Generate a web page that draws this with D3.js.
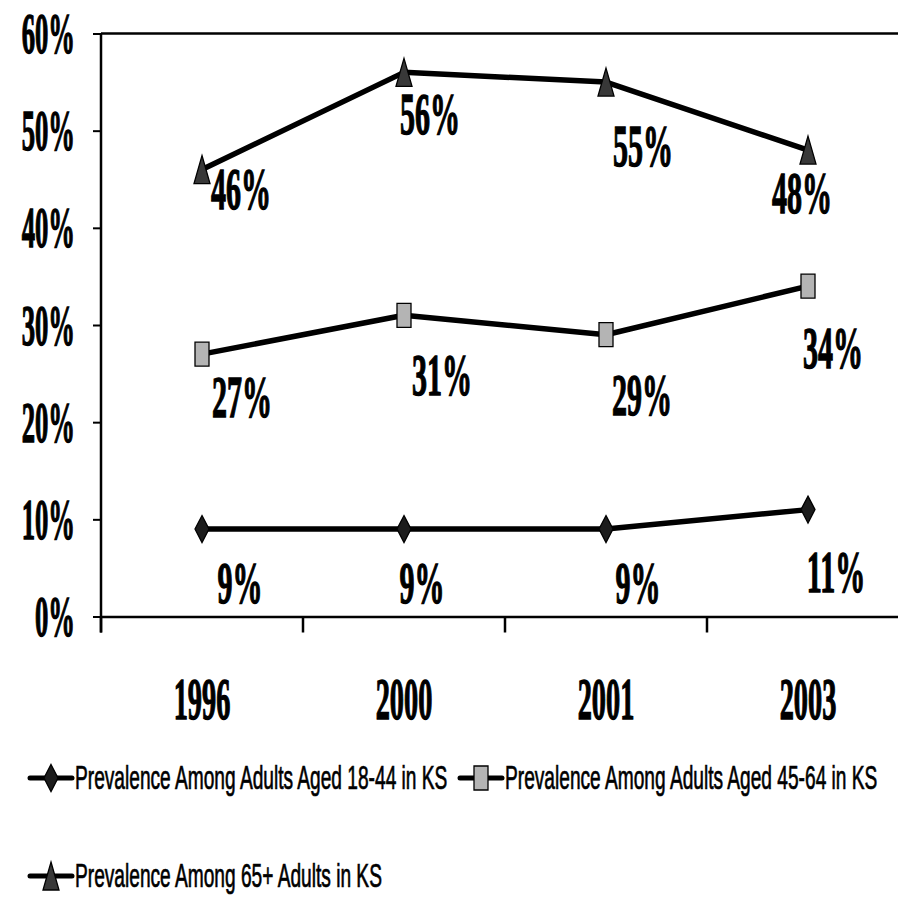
<!DOCTYPE html>
<html>
<head>
<meta charset="utf-8">
<script src="https://cdn.jsdelivr.net/npm/d3@7"></script>
<style>
  body { margin: 0; background: #fff; }
  svg { display: block; }
</style>
</head>
<body>
<script>
// data
var years = ["1996", "2000", "2001", "2003"];
var yTicks = [0, 0.1, 0.2, 0.3, 0.4, 0.5, 0.6];
var seriesNames = [
  "Prevalence Among Adults Aged 18-44 in KS",
  "Prevalence Among Adults Aged 45-64 in KS",
  "Prevalence Among 65+ Adults in KS"
];
var adults1844 = [0.09, 0.09, 0.09, 0.11];
var adults4564 = [0.27, 0.31, 0.29, 0.34];
var adults65 = [0.46, 0.56, 0.55, 0.48];

var width = 898, height = 898;
var margin = {left: 101, right: -11, top: 33.5, bottom: 281.5};

// label placement (dx to text centre, dy to baseline), as dragged in the original
var labelNudge = [
  [[38, 74], [18, 74], [32, 74], [28, 82]],
  [[40, 63], [38, 80], [36, 80], [25, 82]],
  [[39, 39], [26, 62], [37, 84], [-6, 63]]
];

var series = [
  {name: seriesNames[0], values: adults1844, marker: "diamond", fill: "#1c1c1c"},
  {name: seriesNames[1], values: adults4564, marker: "square", fill: "#b4b4b4"},
  {name: seriesNames[2], values: adults65, marker: "triangle", fill: "#383838"}
];

function markerPath(kind) {
  if (kind == "diamond") return "M0,-13.5L7,0L0,13.5L-7,0Z";
  if (kind == "square") return "M-7,-12H7V12H-7Z";
  return "M0,-14L8,14H-8Z";
}

var svg = d3.select("body").append("svg")
  .attr("width", width)
  .attr("height", height);

var x = d3.scaleBand()
  .domain(years)
  .range([margin.left, width - margin.right])
  .padding(0);

var y = d3.scaleLinear()
  .domain([0, 0.6])
  .range([height - margin.bottom, margin.top]);

var serif = "'Liberation Serif', 'Times New Roman', serif";

// y axis
var axisy = d3.axisLeft(y).tickValues(yTicks).tickFormat(d3.format(".0%")).tickSize(8).tickSizeOuter(0);
var gy = svg.append("g")
  .attr("transform", "translate(" + margin.left + ",0)")
  .call(axisy);
gy.select(".domain").remove();
gy.selectAll(".tick line").attr("stroke", "#000").attr("stroke-width", 2);
gy.selectAll(".tick text")
  .attr("font-family", serif)
  .attr("font-weight", "bold")
  .attr("font-size", 58)
  .attr("fill", "#000")
  .attr("stroke", "#000")
  .attr("stroke-width", 1.4)
  .attr("x", -26 / 0.46)
  .attr("dy", "0.33em")
  .attr("transform", "scale(0.46,1)");

// top frame line at 60%
svg.append("line")
  .attr("x1", margin.left).attr("x2", x.range()[1])
  .attr("y1", y(0.6)).attr("y2", y(0.6))
  .attr("stroke", "#000").attr("stroke-width", 2.5);

// y axis line, runs down through the first x tick
svg.append("line")
  .attr("x1", margin.left).attr("x2", margin.left)
  .attr("y1", y(0.6)).attr("y2", y(0) + 16)
  .attr("stroke", "#000").attr("stroke-width", 2.5);

// x axis
var axisx = d3.axisBottom(x).tickSize(0).tickSizeOuter(0);
var gx = svg.append("g")
  .attr("transform", "translate(0," + y(0) + ")")
  .call(axisx);
gx.select(".domain").attr("stroke", "#000").attr("stroke-width", 2.5);
gx.selectAll(".tick text")
  .attr("font-family", serif)
  .attr("font-weight", "bold")
  .attr("font-size", 59)
  .attr("fill", "#000")
  .attr("stroke", "#000")
  .attr("stroke-width", 1.4)
  .attr("x", 0)
  .attr("y", 102.5)
  .attr("dy", 0)
  .attr("transform", "scale(0.48,1)");

// x boundary ticks
var bounds = years.map(d => x(d)).concat([x.range()[1]]);
svg.append("g").selectAll("line")
  .data(bounds)
  .enter().append("line")
  .attr("x1", d => d).attr("x2", d => d)
  .attr("y1", y(0)).attr("y2", y(0) + 16)
  .attr("stroke", "#000").attr("stroke-width", 2.5);

var cx = d => x(d) + x.bandwidth() / 2;

var line = d3.line()
  .x((d, i) => cx(years[i]))
  .y(d => y(d));

series.forEach(function (s) {
  svg.append("path")
    .datum(s.values)
    .attr("fill", "none")
    .attr("stroke", "#000")
    .attr("stroke-width", 5.5)
    .attr("stroke-linejoin", "round")
    .attr("d", line);
});

series.forEach(function (s, si) {
  svg.append("g").selectAll("path")
    .data(s.values)
    .enter().append("path")
    .attr("d", markerPath(s.marker))
    .attr("transform", (d, i) => "translate(" + cx(years[i]) + "," + y(d) + ")")
    .attr("fill", s.fill)
    .attr("stroke", "#000")
    .attr("stroke-width", 1.3);

  svg.append("g").selectAll("text")
    .data(s.values)
    .enter().append("text")
    .attr("transform", (d, i) => "translate(" + (cx(years[i]) + labelNudge[si][i][0]) + "," + (y(d) + labelNudge[si][i][1]) + ") scale(0.5,1)")
    .attr("text-anchor", "middle")
    .attr("font-family", serif)
    .attr("font-weight", "bold")
    .attr("font-size", 60)
    .attr("fill", "#000")
    .attr("stroke", "#000")
    .attr("stroke-width", 1.4)
    .text(d => d3.format(".0%")(d));
});

// legend
var legendPos = [[30, 778], [460, 778], [30, 876]];
var legend = svg.append("g").selectAll("g")
  .data(series)
  .enter().append("g")
  .attr("transform", (d, i) => "translate(" + legendPos[i][0] + "," + legendPos[i][1] + ")");
legend.append("line")
  .attr("x1", 0).attr("x2", 42)
  .attr("y1", 0).attr("y2", 0)
  .attr("stroke", "#000").attr("stroke-width", 5)
  .attr("stroke-linecap", "round");
legend.append("path")
  .attr("d", d => markerPath(d.marker))
  .attr("transform", "translate(21,0)")
  .attr("fill", d => d.fill)
  .attr("stroke", "#000")
  .attr("stroke-width", 1.3);
legend.append("text")
  .attr("transform", "translate(45,11) scale(0.58,1)")
  .attr("font-family", "'Liberation Sans', Arial, sans-serif")
  .attr("font-size", 33)
  .attr("fill", "#000")
  .attr("stroke", "#000")
  .attr("stroke-width", 0.7)
  .text(d => d.name);
</script>
</body>
</html>
